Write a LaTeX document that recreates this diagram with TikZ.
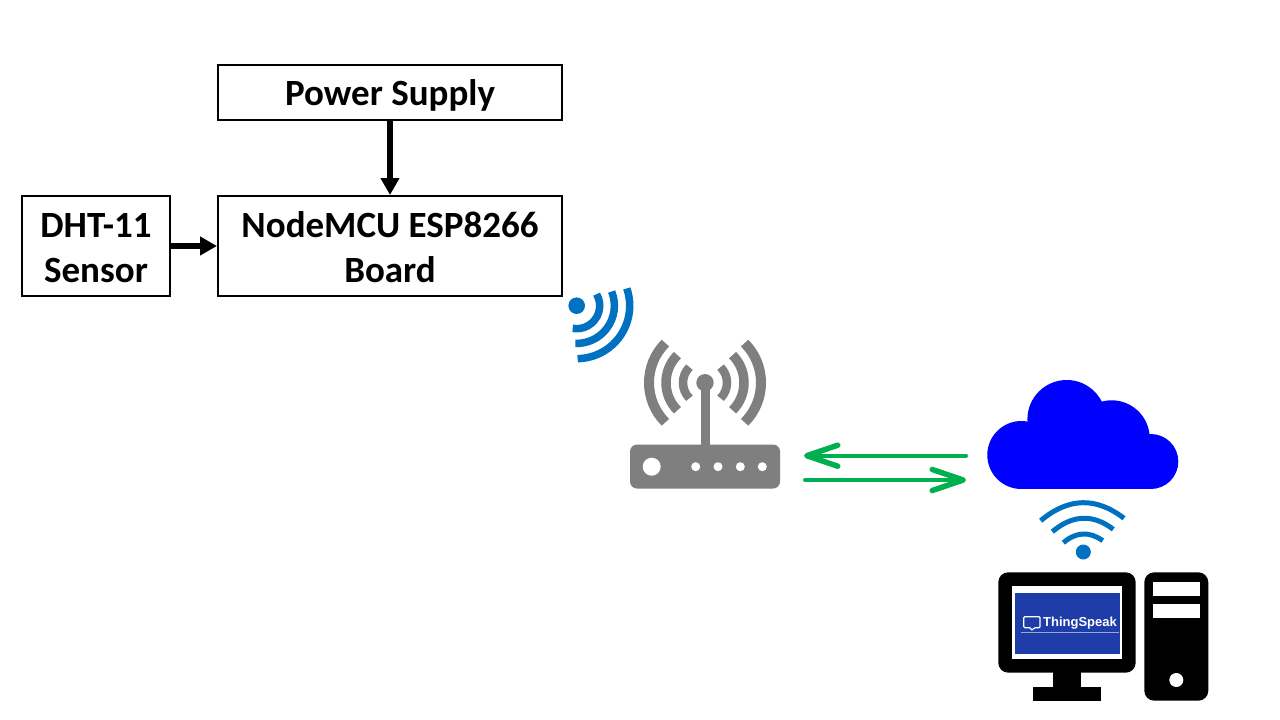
\documentclass[tikz,border=0pt]{standalone}
\usepackage{fontspec}
\setmainfont{Carlito}
\newfontfamily\logofont{Liberation Sans}
\usetikzlibrary{arrows.meta}
\definecolor{wifiblue}{HTML}{0070C0}
\definecolor{routergray}{HTML}{7F7F7F}
\definecolor{linkgreen}{HTML}{00B050}
\definecolor{logoblue}{HTML}{1F3DA8}
\tikzset{
  blockbox/.style={draw=black,line width=2pt,fill=white,inner sep=0pt,align=center,
    font=\fontsize{37}{45}\selectfont\bfseries},
  flowarrow/.style={draw=black,line width=5.5pt,-{Triangle[length=17pt,width=18pt]}},
  linkarrow/.style={draw=linkgreen,line width=4pt,line cap=round,
    -{Straight Barb[length=31pt,width=21pt,line width=5.5pt,round]}},
  rarc/.style={draw=routergray},
  warc/.style={draw=wifiblue},
  dark/.style={fill=black,draw=none},
  slot/.style={fill=white,draw=none},
}
\newcommand{\arcat}[7]{\draw[#1,line width=#7pt] ([shift={(#4:#6)}]#2,#3) arc[start angle=#4,end angle=#5,radius=#6];}
\begin{document}
\begin{tikzpicture}[x=1pt,y=-1pt]
\useasboundingbox (0,0) rectangle (1280,720);
\fill[white] (0,0) rectangle (1280,720);

% blocks
\node[blockbox,minimum width=344pt,minimum height=55pt,text height=29pt,text depth=4pt] (power) at (390,92.5) {Power Supply};
\node[blockbox,minimum width=344pt,minimum height=100pt] (mcu) at (390,246) {\rule{0pt}{28pt}NodeMCU ESP8266\\Board};
\node[blockbox,minimum width=148pt,minimum height=100pt] (dht) at (96,246) {\rule{0pt}{28pt}DHT-11\\Sensor};
\draw[flowarrow] (power.south) -- (mcu.north);
\draw[flowarrow] (dht.east) -- (mcu.west);

% wifi near board
\fill[wifiblue] (576.7,305.7) circle[radius=8.3];
\arcat{warc}{576.7}{305.7}{-30}{100}{23}{7.5}
\arcat{warc}{576.7}{305.7}{-22}{92}{37.7}{7.5}
\arcat{warc}{576.7}{305.7}{-19}{89}{53}{7.5}

% router
\node[fill=routergray,rounded corners=7pt,minimum width=150pt,minimum height=44pt,inner sep=0pt] (router) at (705,466.5) {};
\fill[routergray] (700.5,382) rectangle (709.5,446);
\fill[routergray] (705,382.7) circle[radius=8.7];
\foreach \s/\e in {135/225,-45/45}{
  \arcat{rarc}{705}{382.7}{\s}{\e}{22}{8.5}
  \arcat{rarc}{705}{382.7}{\s}{\e}{39}{9.5}
  \arcat{rarc}{705}{382.7}{\s}{\e}{56}{10}
}
\fill[white] (651.7,466.7) circle[radius=9];
\foreach \x in {695.7,718,740.3,762.3}{\fill[white] (\x,466.7) circle[radius=4.5];}

% cloud
\fill[blue] (1021.3,455) circle[radius=34];
\fill[blue] (1066.7,419.3) circle[radius=39.3];
\fill[blue] (1111.7,438.3) circle[radius=38];
\fill[blue] (1150.8,461.5) circle[radius=27.5];
\fill[blue] (1021.3,440) rectangle (1150.8,489);
\coordinate (cloudA) at (966,455.7);
\coordinate (cloudB) at (966,480);
\coordinate (routerA) at (804,455.7);
\coordinate (routerB) at (805,480);
\draw[linkarrow] (cloudA) -- (routerA);
\draw[linkarrow] (routerB) -- (cloudB);

% wifi under cloud
\fill[wifiblue] (1083.3,552) circle[radius=7.5];
\draw[wifiblue,line width=5pt] (1040.7,520.7) .. controls (1068.2,497.5) and (1096,496.7) .. (1124,518.3);
\draw[wifiblue,line width=5pt] (1052.3,531.7) .. controls (1072.6,514.6) and (1092.9,513.8) .. (1113.3,529.3);
\draw[wifiblue,line width=5pt] (1063.3,542.7) .. controls (1076.2,531.8) and (1089.4,531.1) .. (1102.7,540.7);

% computer
\fill[dark,rounded corners=10pt] (998.3,572.3) rectangle (1135.7,672.7);
\fill[dark] (1053.3,670) rectangle (1080.7,688);
\fill[dark] (1032.7,686.7) rectangle (1101.3,700.7);
\fill[white] (1012,586) rectangle (1122.3,659.3);
\fill[logoblue] (1015,592.7) rectangle (1120,654);
\draw[white,line width=1.2pt,rounded corners=1pt] (1023.8,616.7) -- (1040,616.7) -- (1040,627.7) -- (1034.5,627.7) -- (1031.5,630.5) -- (1030.5,627.7) -- (1023.8,627.7) -- cycle;
\node[text=white,inner sep=0pt,font=\fontsize{13}{13}\selectfont\logofont\bfseries] (logo) at (1080,623) {ThingSpeak};
\draw[white!55!logoblue,line width=0.6pt] (1021,632.7) -- (1119,632.7);
\fill[dark,rounded corners=10pt] (1144.3,572.3) rectangle (1208.3,700.7);
\fill[slot] (1153.3,581.7) rectangle (1199.7,595.7);
\fill[slot] (1153.3,604.3) rectangle (1199.7,618.3);
\fill[white] (1176.3,680) circle[radius=7];
\end{tikzpicture}
\end{document}
